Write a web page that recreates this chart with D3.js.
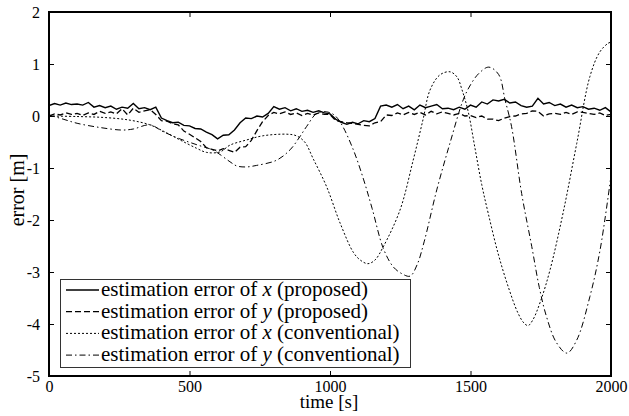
<!DOCTYPE html>
<html>
<head>
<meta charset="utf-8">
<script src="https://cdn.jsdelivr.net/npm/d3@7"></script>
<style>
  body { margin: 0; background: #fff; }
  text { font-family: "Liberation Serif", "Times New Roman", serif; fill: #000; }
</style>
</head>
<body>
<div id="chart"></div>
<script>

// sample times of the proposed estimator [s]
var time_steps = [0, 20, 40, 60, 80, 100, 120, 140, 160, 180, 200, 220, 240, 260, 280, 300, 320, 340, 360, 380,
  400, 420, 440, 460, 480, 500, 520, 540, 560, 580, 600, 620, 640, 660, 680, 700, 720, 740, 760, 780,
  800, 820, 840, 860, 880, 900, 920, 940, 960, 980, 1000, 1020, 1040, 1060, 1080, 1100, 1120, 1140, 1160, 1180,
  1200, 1220, 1240, 1260, 1280, 1300, 1320, 1340, 1360, 1380, 1400, 1420, 1440, 1460, 1480, 1500, 1520, 1540, 1560, 1580,
  1600, 1620, 1640, 1660, 1680, 1700, 1720, 1740, 1760, 1780, 1800, 1820, 1840, 1860, 1880, 1900, 1920, 1940, 1960, 1980, 2000]

// estimation error of x (proposed) [m]
var err_x_proposed = [0.20, 0.24, 0.21, 0.25, 0.22, 0.23, 0.21, 0.26, 0.17, 0.20, 0.16, 0.19, 0.13, 0.17, 0.15, 0.24, 0.14, 0.16, 0.12, 0.17,
  -0.04, -0.09, -0.13, -0.12, -0.18, -0.19, -0.24, -0.25, -0.31, -0.36, -0.44, -0.37, -0.36, -0.27, -0.13, -0.04, -0.05, 0.00, -0.02, 0.05,
  0.18, 0.13, 0.16, 0.10, 0.14, 0.09, 0.11, 0.07, 0.10, 0.06, 0.04, -0.06, -0.12, -0.16, -0.12, -0.15, -0.09, -0.11, -0.05, 0.19,
  0.21, 0.17, 0.22, 0.14, 0.19, 0.12, 0.21, 0.16, 0.19, 0.22, 0.14, 0.15, 0.12, 0.17, 0.13, 0.21, 0.17, 0.27, 0.23, 0.31,
  0.29, 0.32, 0.25, 0.27, 0.20, 0.17, 0.19, 0.34, 0.23, 0.26, 0.20, 0.23, 0.17, 0.21, 0.16, 0.18, 0.13, 0.15, 0.11, 0.16, 0.08]

// estimation error of y (proposed) [m]
var err_y_proposed = [0.00, 0.04, 0.02, 0.06, 0.03, 0.05, 0.01, 0.06, 0.03, 0.09, 0.05, 0.08, 0.04, 0.14, 0.02, 0.15, 0.07, 0.10, 0.12, 0.03,
  -0.09, -0.10, -0.15, -0.17, -0.29, -0.35, -0.42, -0.49, -0.61, -0.64, -0.67, -0.63, -0.66, -0.70, -0.60, -0.59, -0.47, -0.28, -0.11, 0.01,
  0.07, 0.04, 0.08, 0.03, 0.06, 0.01, 0.05, 0.02, 0.06, 0.03, 0.03, -0.09, -0.11, -0.13, -0.14, -0.16, -0.18, -0.19, -0.13, -0.11,
  0.02, 0.01, 0.06, 0.02, 0.07, 0.03, 0.07, 0.02, 0.09, 0.04, 0.08, 0.05, 0.02, 0.05, 0.00, 0.01, -0.03, 0.00, -0.06, -0.06,
  -0.09, -0.04, -0.01, 0.00, 0.04, 0.05, 0.10, 0.09, 0.00, 0.04, 0.05, 0.03, 0.07, 0.03, 0.08, 0.07, 0.05, 0.03, 0.06, 0.01, 0.03]

// estimation error of x (conventional), [time, error]
var err_x_conventional = [[0, 0.0], [100, -0.01], [200, -0.03], [288, -0.08], [359, -0.17], [410, -0.30], [466, -0.46],
  [525, -0.62], [561, -0.70], [609, -0.69], [644, -0.56], [704, -0.46], [762, -0.38], [846, -0.35], [880, -0.38],
  [910, -0.50], [940, -0.82], [988, -1.36], [1036, -2.06], [1084, -2.63], [1110, -2.78], [1135, -2.84], [1160, -2.77],
  [1189, -2.52], [1249, -1.81], [1296, -0.85], [1331, -0.07], [1356, 0.50], [1391, 0.79], [1427, 0.85], [1452, 0.75],
  [1470, 0.50], [1492, 0.08], [1516, -0.62], [1540, -1.32], [1563, -1.87], [1598, -2.64], [1634, -3.28], [1669, -3.79],
  [1690, -3.98], [1705, -4.03], [1722, -3.92], [1750, -3.55], [1783, -2.96], [1830, -1.85], [1878, -0.53], [1925, 0.76],
  [1960, 1.23], [1990, 1.40], [2000, 1.42]]

// estimation error of y (conventional), [time, error]
var err_y_conventional = [[0, 0.02], [50, -0.06], [100, -0.14], [180, -0.22], [260, -0.27], [300, -0.25], [359, -0.17],
  [406, -0.30], [466, -0.44], [530, -0.56], [585, -0.66], [644, -0.88], [668, -0.96], [700, -0.98], [739, -0.95],
  [810, -0.85], [858, -0.65], [890, -0.42], [917, -0.20], [953, 0.05], [988, 0.08], [1015, 0.02], [1040, -0.15],
  [1083, -0.65], [1120, -1.23], [1150, -1.78], [1190, -2.55], [1225, -2.90], [1255, -3.03], [1285, -3.08], [1310, -2.86],
  [1335, -2.42], [1380, -1.42], [1427, -0.52], [1474, 0.31], [1500, 0.60], [1530, 0.82], [1565, 0.94], [1600, 0.80],
  [1623, 0.31], [1646, -0.20], [1682, -1.49], [1718, -2.51], [1745, -3.30], [1770, -3.85], [1805, -4.35], [1843, -4.56],
  [1878, -4.31], [1925, -3.47], [1961, -2.58], [2000, -1.15]]

var x_ticks = [0, 500, 1000, 1500, 2000]
var y_ticks = [-5, -4, -3, -2, -1, 0, 1, 2]

var legend_labels = [
  ["estimation error of ", "x", " (proposed)"],
  ["estimation error of ", "y", " (proposed)"],
  ["estimation error of ", "x", " (conventional)"],
  ["estimation error of ", "y", " (conventional)"]
]

// line styles for the four series
var dash_styles = [null, "6,3", "2,2", "6,3,1.5,3"]

var width = 629
var height = 416
var margin = {left: 49, top: 12, right: 18, bottom: 40}


// draw the whole chart
function draw_chart(){

  var svg = d3.select("#chart").append("svg")
    .attr("width", width)
    .attr("height", height)

  var x = d3.scaleLinear()
    .domain([0, 2000])
    .range([margin.left, width - margin.right])

  var y = d3.scaleLinear()
    .domain([-5, 2])
    .range([height - margin.bottom, margin.top])

  // clip the lines to the plot area
  svg.append("clipPath")
    .attr("id", "plot-clip")
    .append("rect")
    .attr("x", x(0))
    .attr("y", y(2))
    .attr("width", x(2000) - x(0))
    .attr("height", y(-5) - y(2))

  // ticks on all four sides, pointing inwards
  var tick_len = 5
  svg.append("g")
    .attr("transform", "translate(0," + y(-5) + ")")
    .call(d3.axisBottom(x).tickValues(x_ticks).tickSize(-tick_len).tickPadding(5).tickFormat(d3.format("d")))
    .call(style_axis)

  svg.append("g")
    .attr("transform", "translate(0," + y(2) + ")")
    .call(d3.axisTop(x).tickValues(x_ticks).tickSize(-tick_len).tickFormat(""))
    .call(style_axis)

  svg.append("g")
    .attr("transform", "translate(" + x(0) + ",0)")
    .call(d3.axisLeft(y).tickValues(y_ticks).tickSize(-tick_len).tickPadding(9)
      .tickFormat(function(d){ return d < 0 ? "-" + Math.abs(d) : String(d) }))
    .call(style_axis)

  svg.append("g")
    .attr("transform", "translate(" + x(2000) + ",0)")
    .call(d3.axisRight(y).tickValues(y_ticks).tickSize(-tick_len).tickFormat(""))
    .call(style_axis)

  // frame around the plot
  svg.append("rect")
    .attr("x", x(0))
    .attr("y", y(2))
    .attr("width", x(2000) - x(0))
    .attr("height", y(-5) - y(2))
    .attr("fill", "none")
    .attr("stroke", "#000")
    .attr("stroke-width", 2)

  var line_pairs = d3.line()
    .x(function(d){ return x(d[0]) })
    .y(function(d){ return y(d[1]) })

  var line_smooth = d3.line()
    .x(function(d){ return x(d[0]) })
    .y(function(d){ return y(d[1]) })
    .curve(d3.curveCatmullRom)

  var plot = svg.append("g").attr("clip-path", "url(#plot-clip)")

  plot.append("path")
    .datum(d3.zip(time_steps, err_x_proposed))
    .attr("d", line_pairs)
    .attr("fill", "none")
    .attr("stroke", "#000")
    .attr("stroke-width", 1.4)

  plot.append("path")
    .datum(d3.zip(time_steps, err_y_proposed))
    .attr("d", line_pairs)
    .attr("fill", "none")
    .attr("stroke", "#000")
    .attr("stroke-width", 1.3)
    .attr("stroke-dasharray", dash_styles[1])

  plot.append("path")
    .datum(err_x_conventional)
    .attr("d", line_smooth)
    .attr("fill", "none")
    .attr("stroke", "#000")
    .attr("stroke-width", 1)
    .attr("stroke-dasharray", dash_styles[2])

  plot.append("path")
    .datum(err_y_conventional)
    .attr("d", line_smooth)
    .attr("fill", "none")
    .attr("stroke", "#000")
    .attr("stroke-width", 1)
    .attr("stroke-dasharray", dash_styles[3])

  // axis titles
  svg.append("text")
    .attr("x", 329)
    .attr("y", 408)
    .attr("text-anchor", "middle")
    .style("font-size", "19px")
    .text("time [s]")

  svg.append("text")
    .attr("transform", "translate(24,190) rotate(-90)")
    .attr("text-anchor", "middle")
    .style("font-size", "20px")
    .text("error [m]")

  draw_legend(svg)
}


// thin black axis lines with serif labels
function style_axis(g){
  g.select(".domain").remove()
  g.selectAll(".tick line").attr("stroke", "#000").attr("stroke-width", 1)
  g.selectAll(".tick text")
    .style("font-size", "16px")
    .style("font-family", "'Liberation Serif', 'Times New Roman', serif")
}


// legend box in the lower left corner
function draw_legend(svg){

  var legend = svg.append("g").attr("class", "legend")

  legend.append("rect")
    .attr("x", 60.5)
    .attr("y", 279.5)
    .attr("width", 350)
    .attr("height", 88)
    .attr("fill", "#fff")
    .attr("stroke", "#333")
    .attr("stroke-width", 1)

  var rows = legend.selectAll("g.row")
    .data(legend_labels)
    .enter().append("g")
    .attr("class", "row")
    .attr("transform", function(d, i){ return "translate(0," + (290 + i * 21.7) + ")" })

  rows.append("line")
    .attr("x1", 66)
    .attr("x2", 99)
    .attr("y1", 0)
    .attr("y2", 0)
    .attr("stroke", "#000")
    .attr("stroke-width", function(d, i){ return i < 2 ? 1.3 : 1 })
    .attr("stroke-dasharray", function(d, i){ return dash_styles[i] })

  var label = rows.append("text")
    .attr("x", 101)
    .attr("y", 6)
    .style("font-size", "21px")

  label.append("tspan").text(function(d){ return d[0] })
  label.append("tspan").style("font-style", "italic").text(function(d){ return d[1] })
  label.append("tspan").text(function(d){ return d[2] })
}


draw_chart()

</script>
</body>
</html>
